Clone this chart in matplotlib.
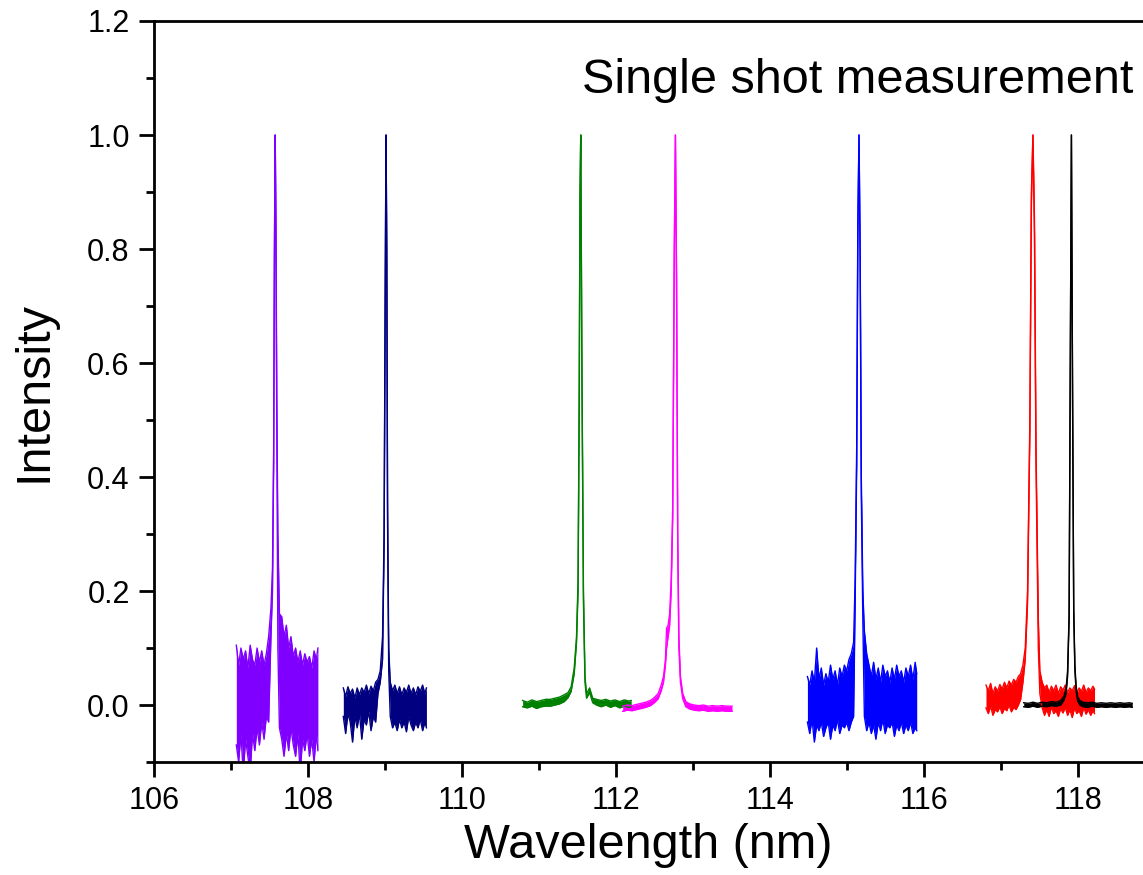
import matplotlib
matplotlib.use("Agg")
import matplotlib.pyplot as plt
from matplotlib.ticker import MultipleLocator, FormatStrFormatter

plt.rcParams['font.family'] = ['Liberation Sans', 'DejaVu Sans']

# each spectrum: wavelength samples, upper and lower edge of the noisy trace
x_violet = [107.07, 107.10, 107.13, 107.16, 107.19, 107.22, 107.25, 107.28, 107.31, 107.34,
            107.37, 107.40, 107.43, 107.46, 107.49, 107.52, 107.54, 107.555, 107.565, 107.575,
            107.585, 107.595, 107.61, 107.63, 107.66, 107.69, 107.72, 107.75, 107.78, 107.81,
            107.84, 107.87, 107.90, 107.93, 107.96, 107.99, 108.02, 108.05, 108.08, 108.11, 108.13]
hi_violet = [0.105, 0.07, 0.10, 0.08, 0.095, 0.065, 0.105, 0.08, 0.07, 0.10,
             0.075, 0.095, 0.07, 0.09, 0.12, 0.17, 0.24, 0.45, 0.80, 1.0,
             0.85, 0.55, 0.30, 0.16, 0.155, 0.12, 0.14, 0.10, 0.12, 0.085,
             0.10, 0.075, 0.095, 0.07, 0.09, 0.075, 0.085, 0.065, 0.095, 0.08, 0.10]
lo_violet = [-0.07, -0.10, -0.05, -0.12, -0.06, -0.09, -0.12, -0.05, -0.08, -0.04,
             -0.07, -0.03, -0.06, -0.02, -0.03, 0.12, 0.20, 0.42, 0.78, 1.0,
             0.82, 0.50, 0.10, -0.04, -0.06, -0.09, -0.05, -0.08, -0.04, -0.07,
             -0.09, -0.05, -0.12, -0.06, -0.08, -0.05, -0.09, -0.06, -0.10, -0.05, -0.08]

x_navy = [108.46, 108.49, 108.52, 108.55, 108.58, 108.61, 108.64, 108.67, 108.70, 108.73,
          108.76, 108.79, 108.82, 108.85, 108.88, 108.91, 108.94, 108.97, 108.99, 109.005,
          109.015, 109.025, 109.035, 109.05, 109.07, 109.10, 109.13, 109.16, 109.19, 109.22,
          109.25, 109.28, 109.31, 109.34, 109.37, 109.40, 109.43, 109.46, 109.49, 109.52, 109.54]
hi_navy = [0.03, 0.015, 0.032, 0.02, 0.028, 0.012, 0.03, 0.018, 0.03, 0.022,
           0.035, 0.02, 0.033, 0.025, 0.04, 0.045, 0.06, 0.12, 0.30, 0.75,
           1.0, 0.80, 0.35, 0.10, 0.04, 0.025, 0.035, 0.02, 0.032, 0.018,
           0.03, 0.022, 0.035, 0.02, 0.03, 0.018, 0.032, 0.024, 0.035, 0.02, 0.03]
lo_navy = [-0.02, -0.05, -0.015, -0.03, -0.065, -0.02, -0.04, -0.015, -0.06, -0.025,
           -0.035, -0.01, -0.045, -0.02, -0.03, 0.02, 0.04, 0.08, 0.28, 0.72,
           1.0, 0.78, 0.32, 0.06, -0.02, -0.04, -0.03, -0.045, -0.025, -0.04,
           -0.03, -0.047, -0.02, -0.035, -0.045, -0.03, -0.04, -0.025, -0.045, -0.03, -0.04]

x_green = [110.79, 110.85, 110.91, 110.97, 111.03, 111.09, 111.15, 111.21, 111.27, 111.33,
           111.38, 111.42, 111.46, 111.49, 111.51, 111.525, 111.535, 111.545, 111.56, 111.58,
           111.60, 111.62, 111.66, 111.70, 111.75, 111.81, 111.87, 111.93, 111.99, 112.05,
           112.11, 112.17, 112.20]
hi_green = [0.008, 0.005, 0.009, 0.006, 0.008, 0.01, 0.01, 0.012, 0.014, 0.018,
            0.022, 0.032, 0.065, 0.12, 0.22, 0.55, 0.9, 1.0, 0.6, 0.2,
            0.05, 0.02, 0.03, 0.012, 0.01, 0.008, 0.01, 0.007, 0.009, 0.006,
            0.009, 0.007, 0.008]
lo_green = [-0.003, -0.005, -0.002, -0.006, -0.003, -0.002, -0.002, 0.0, 0.002, 0.006,
            0.013, 0.024, 0.055, 0.11, 0.2, 0.52, 0.88, 1.0, 0.58, 0.18,
            0.04, 0.012, 0.022, 0.004, 0.0, -0.003, 0.0, -0.004, -0.001, -0.005,
            -0.002, -0.004, -0.003]

x_magenta = [112.09, 112.15, 112.21, 112.27, 112.33, 112.39, 112.45, 112.50, 112.55, 112.59,
             112.62, 112.645, 112.66, 112.68, 112.70, 112.72, 112.74, 112.76, 112.775, 112.79,
             112.805, 112.82, 112.84, 112.87, 112.91, 112.96, 113.02, 113.08, 113.14, 113.20,
             113.26, 113.32, 113.38, 113.44, 113.51]
hi_magenta = [-0.002, 0.0, -0.001, 0.001, 0.003, 0.005, 0.008, 0.013, 0.02, 0.035,
              0.05, 0.08, 0.135, 0.14, 0.16, 0.22, 0.35, 0.8, 1.0, 0.75,
              0.3, 0.12, 0.05, 0.02, 0.006, 0.002, 0.0, -0.001, 0.0, -0.002,
              -0.001, -0.002, -0.001, -0.002, -0.002]
lo_magenta = [-0.011, -0.009, -0.01, -0.008, -0.006, -0.004, -0.001, 0.004, 0.011, 0.025,
              0.04, 0.07, 0.10, 0.12, 0.14, 0.2, 0.33, 0.78, 1.0, 0.73,
              0.28, 0.1, 0.04, 0.011, -0.003, -0.007, -0.009, -0.01, -0.009, -0.011,
              -0.01, -0.011, -0.01, -0.011, -0.011]

x_blue = [114.49, 114.52, 114.55, 114.58, 114.61, 114.64, 114.67, 114.70, 114.73, 114.76,
          114.79, 114.82, 114.85, 114.88, 114.91, 114.94, 114.97, 115.00, 115.03, 115.06,
          115.09, 115.11, 115.13, 115.145, 115.16, 115.175, 115.19, 115.21, 115.23, 115.26,
          115.29, 115.32, 115.35, 115.38, 115.41, 115.44, 115.47, 115.50, 115.53, 115.56,
          115.59, 115.62, 115.65, 115.68, 115.71, 115.74, 115.77, 115.80, 115.83, 115.86,
          115.89, 115.91]
hi_blue = [0.05, 0.035, 0.06, 0.04, 0.10, 0.045, 0.065, 0.035, 0.055, 0.04,
           0.07, 0.045, 0.06, 0.035, 0.065, 0.05, 0.07, 0.06, 0.08, 0.09,
           0.11, 0.22, 0.45, 0.85, 1.0, 0.8, 0.4, 0.2, 0.13, 0.09,
           0.07, 0.05, 0.075, 0.045, 0.065, 0.04, 0.07, 0.05, 0.06, 0.04,
           0.065, 0.045, 0.07, 0.05, 0.06, 0.04, 0.065, 0.05, 0.07, 0.045,
           0.075, 0.055]
lo_blue = [-0.03, -0.05, -0.025, -0.065, -0.035, -0.045, -0.03, -0.055, -0.04, -0.03,
           -0.06, -0.035, -0.045, -0.025, -0.05, -0.035, -0.04, -0.03, -0.045, -0.03,
           -0.02, 0.18, 0.42, 0.82, 1.0, 0.78, 0.37, 0.15, -0.02, -0.045,
           -0.03, -0.05, -0.035, -0.06, -0.03, -0.045, -0.025, -0.05, -0.035, -0.04,
           -0.03, -0.055, -0.035, -0.045, -0.03, -0.05, -0.035, -0.045, -0.03, -0.05,
           -0.04, -0.045]

x_red = [116.81, 116.84, 116.87, 116.90, 116.93, 116.96, 116.99, 117.02, 117.05, 117.08,
         117.11, 117.14, 117.17, 117.20, 117.23, 117.26, 117.29, 117.32, 117.35, 117.38,
         117.40, 117.42, 117.44, 117.46, 117.49, 117.51, 117.54, 117.57, 117.60, 117.63,
         117.66, 117.69, 117.72, 117.75, 117.78, 117.81, 117.84, 117.87, 117.90, 117.93,
         117.96, 117.99, 118.02, 118.05, 118.08, 118.11, 118.14, 118.17, 118.20, 118.22]
hi_red = [0.035, 0.025, 0.038, 0.02, 0.032, 0.024, 0.036, 0.028, 0.04, 0.03,
          0.042, 0.035, 0.045, 0.04, 0.05, 0.055, 0.07, 0.1, 0.2, 0.5,
          0.9, 1.0, 0.85, 0.45, 0.15, 0.06, 0.04, 0.03, 0.035, 0.022,
          0.033, 0.025, 0.035, 0.02, 0.032, 0.026, 0.035, 0.022, 0.03, 0.025,
          0.034, 0.02, 0.03, 0.024, 0.035, 0.022, 0.03, 0.025, 0.033, 0.028]
lo_red = [-0.005, -0.015, -0.002, -0.018, -0.008, -0.012, -0.003, -0.015, -0.006, -0.01,
          0.0, -0.012, -0.004, -0.008, 0.0, 0.01, 0.04, 0.08, 0.18, 0.48,
          0.88, 1.0, 0.82, 0.42, 0.1, 0.02, -0.005, -0.018, -0.008, -0.02,
          -0.003, -0.015, -0.01, -0.02, -0.006, -0.014, -0.004, -0.018, -0.008, -0.022,
          -0.005, -0.015, -0.01, -0.02, -0.004, -0.016, -0.008, -0.018, -0.01, -0.015]

x_black = [117.30, 117.36, 117.42, 117.48, 117.54, 117.60, 117.66, 117.72, 117.78, 117.82,
           117.85, 117.87, 117.89, 117.905, 117.92, 117.935, 117.95, 117.965, 117.98, 118.0,
           118.03, 118.07, 118.13, 118.19, 118.25, 118.31, 118.37, 118.43, 118.49, 118.55,
           118.61, 118.67, 118.71]
hi_black = [0.004, 0.003, 0.005, 0.003, 0.005, 0.004, 0.006, 0.005, 0.008, 0.015,
            0.028, 0.06, 0.16, 0.6, 1.0, 0.55, 0.17, 0.07, 0.035, 0.015,
            0.008, 0.005, 0.004, 0.005, 0.003, 0.004, 0.003, 0.004, 0.003, 0.004,
            0.003, 0.004, 0.003]
lo_black = [-0.003, -0.004, -0.002, -0.004, -0.002, -0.003, -0.001, -0.002, 0.0, 0.008,
            0.02, 0.05, 0.15, 0.58, 1.0, 0.53, 0.16, 0.06, 0.026, 0.007,
            0.0, -0.003, -0.004, -0.002, -0.004, -0.003, -0.004, -0.003, -0.004, -0.003,
            -0.004, -0.003, -0.004]

spectra = [
    (x_violet, hi_violet, lo_violet, '#8000FF'),
    (x_navy, hi_navy, lo_navy, '#000080'),
    (x_green, hi_green, lo_green, '#008000'),
    (x_magenta, hi_magenta, lo_magenta, '#FF00FF'),
    (x_blue, hi_blue, lo_blue, '#0000FF'),
    (x_red, hi_red, lo_red, '#FF0000'),
    (x_black, hi_black, lo_black, '#000000'),
]

fig = plt.figure(figsize=(11.43, 8.75), dpi=100)
ax = fig.add_axes([0.1347, 0.1291, 0.8653, 0.8469])

for x, hi, lo, c in spectra:
    ax.fill_between(x, lo, hi, color=c, linewidth=0)
    ax.plot(x, hi, color=c, lw=1.0)
    ax.plot(x, lo, color=c, lw=1.0)

ax.set_xlim(106, 118.85)
ax.set_ylim(-0.1, 1.2)
ax.xaxis.set_major_locator(MultipleLocator(2))
ax.xaxis.set_minor_locator(MultipleLocator(1))
ax.yaxis.set_major_locator(MultipleLocator(0.2))
ax.yaxis.set_minor_locator(MultipleLocator(0.1))
ax.yaxis.set_major_formatter(FormatStrFormatter('%.1f'))

ax.tick_params(which='major', direction='out', length=10.5, width=2, labelsize=22, pad=7)
ax.tick_params(which='minor', direction='out', length=5.5, width=2)
ax.spines['right'].set_visible(False)
for s in ['left', 'bottom', 'top']:
    ax.spines[s].set_linewidth(2)

ax.set_xlabel('Wavelength (nm)', fontsize=35, labelpad=5)
ax.set_ylabel('Intensity', fontsize=35, labelpad=22)
ax.text(118.72, 1.096, 'Single shot measurement', fontsize=35, ha='right', va='center')

fig.savefig('out.png', dpi=100)
